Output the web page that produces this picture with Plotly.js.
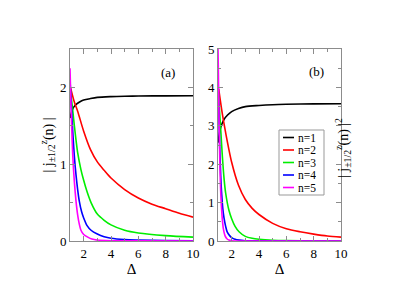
<!DOCTYPE html>
<html>
<head>
<meta charset="utf-8">
<script src="https://cdn.plot.ly/plotly-3.0.1.min.js"></script>
<style>html,body{margin:0;padding:0;background:#fff}#chart{width:411px;height:291px}</style>
</head>
<body>
<div id="chart"></div>
<script>
// Panel (a): |j^z_{±1/2}(n)|
const a1x = [1.0, 1.1, 1.2, 1.3, 1.45, 1.7, 2, 2.5, 3, 4, 5, 6, 8, 10];
const a1y = [1.60, 1.67, 1.72, 1.75, 1.78, 1.81, 1.835, 1.855, 1.87, 1.88, 1.885, 1.888, 1.89, 1.892];
const a2x = [1.05, 1.3, 1.56, 2, 2.5, 3, 3.5, 4, 5, 6, 7, 8, 9, 10];
const a2y = [1.99, 1.82, 1.69, 1.43, 1.19, 1.03, 0.92, 0.82, 0.67, 0.56, 0.48, 0.42, 0.36, 0.31];
const a3x = [1.0, 1.1, 1.2, 1.32, 1.45, 1.56, 1.8, 2, 2.25, 2.54, 3, 3.5, 4, 5, 6, 8, 10];
const a3y = [2.0, 1.86, 1.70, 1.50, 1.30, 1.15, 0.93, 0.79, 0.64, 0.50, 0.35, 0.27, 0.21, 0.14, 0.105, 0.07, 0.05];
const a4x = [1.0, 1.1, 1.2, 1.32, 1.44, 1.56, 1.68, 1.85, 2, 2.25, 2.54, 3, 3.5, 4, 5, 6, 8, 10];
const a4y = [2.10, 1.75, 1.43, 1.10, 0.86, 0.67, 0.52, 0.38, 0.30, 0.20, 0.14, 0.09, 0.055, 0.035, 0.018, 0.012, 0.006, 0.004];
const a5x = [1.0, 1.06, 1.12, 1.2, 1.32, 1.44, 1.56, 1.68, 1.8, 2, 2.3, 2.6, 3, 4, 6, 10];
const a5y = [2.25, 1.85, 1.50, 1.12, 0.77, 0.52, 0.34, 0.22, 0.14, 0.085, 0.05, 0.025, 0.012, 0.004, 0.001, 0.0];

// Panel (b): |j^z_{±1/2}(n)|^2
const b1x = [1.0, 1.1, 1.2, 1.3, 1.45, 1.7, 2, 2.5, 3, 4, 5, 6, 8, 10];
const b1y = [2.56, 2.80, 2.96, 3.06, 3.17, 3.28, 3.37, 3.45, 3.50, 3.53, 3.55, 3.56, 3.57, 3.575];
const b2x = [1.05, 1.3, 1.56, 2, 2.5, 3, 3.5, 4, 5, 6, 7, 8, 9, 10];
const b2y = [3.96, 3.35, 2.82, 2.05, 1.45, 1.08, 0.85, 0.69, 0.46, 0.32, 0.24, 0.18, 0.13, 0.10];
const b3x = [1.0, 1.1, 1.2, 1.32, 1.45, 1.56, 1.8, 2, 2.25, 2.54, 3, 3.5, 4, 5, 6, 8, 10];
const b3y = [4.0, 3.45, 2.9, 2.2, 1.6, 1.25, 0.8, 0.58, 0.38, 0.24, 0.12, 0.07, 0.045, 0.02, 0.011, 0.005, 0.0025];
const b4x = [1.0, 1.06, 1.12, 1.2, 1.27, 1.35, 1.44, 1.56, 1.68, 1.85, 2, 2.25, 2.54, 3, 4, 10];
const b4y = [4.3, 3.4, 2.5, 1.7, 1.22, 0.85, 0.6, 0.38, 0.23, 0.14, 0.09, 0.045, 0.022, 0.008, 0.002, 0.0];
const b5x = [1.0, 1.04, 1.07, 1.12, 1.17, 1.25, 1.32, 1.4, 1.51, 1.65, 1.8, 2, 3, 10];
const b5y = [5.05, 4.1, 3.3, 2.3, 1.57, 0.9, 0.55, 0.3, 0.14, 0.06, 0.025, 0.008, 0.0, 0.0];

const names = ["n=1", "n=2", "n=3", "n=4", "n=5"];
const colors = ["#000000", "#ff0000", "#00ee00", "#0000ff", "#ff00ff"];

const xsA = [a1x, a2x, a3x, a4x, a5x], ysA = [a1y, a2y, a3y, a4y, a5y];
const xsB = [b1x, b2x, b3x, b4x, b5x], ysB = [b1y, b2y, b3y, b4y, b5y];

const traces = [];
for (let i = 0; i < 5; i++) {
  traces.push({x: xsA[i], y: ysA[i], xaxis: 'x', yaxis: 'y', mode: 'lines', name: names[i],
    showlegend: false, line: {color: colors[i], width: 1.6, shape: 'spline', smoothing: 0.8}});
}
for (let i = 0; i < 5; i++) {
  traces.push({x: xsB[i], y: ysB[i], xaxis: 'x2', yaxis: 'y2', mode: 'lines', name: names[i],
    showlegend: false, line: {color: colors[i], width: 1.6, shape: 'spline', smoothing: 0.8}});
}

const serif = "Liberation Serif";
const frame = '#8c8c8c';
function xax(domain, anchor) {
  return {domain: domain, anchor: anchor, range: [1, 10], tick0: 0, dtick: 2,
    ticks: 'inside', ticklen: 5, tickcolor: frame, tickwidth: 1,
    showline: true, linecolor: frame, linewidth: 1, mirror: 'allticks',
    minor: {tick0: 0, dtick: 1, ticks: 'inside', ticklen: 3, tickcolor: frame},
    showgrid: false, zeroline: false,
    tickfont: {family: serif, size: 13, color: '#000'},
    title: {text: 'Δ', font: {family: serif, size: 15, color: '#000'}, standoff: 2}};
}
function yax(domain, anchor, max) {
  return {domain: domain, anchor: anchor, range: [0, max], tick0: 0, dtick: 1,
    ticks: 'inside', ticklen: 5, tickcolor: frame, tickwidth: 1,
    showline: true, linecolor: frame, linewidth: 1, mirror: 'allticks',
    minor: {tick0: 0, dtick: 0.5, ticks: 'inside', ticklen: 3, tickcolor: frame},
    showgrid: false, zeroline: false,
    tickfont: {family: serif, size: 13, color: '#000'}};
}

// custom compact legend (paper pixel positions)
const W = 411, H = 291;
const legX0 = 279, legX1 = 324, legY0 = 130, legY1 = 195;
const shapes = [{type: 'rect', xref: 'paper', yref: 'paper',
  x0: legX0 / W, x1: legX1 / W, y0: 1 - legY1 / H, y1: 1 - legY0 / H,
  line: {color: '#999', width: 1}, fillcolor: '#fff', layer: 'above'}];
const annotations = [
  {xref: 'x', yref: 'y', x: 8.15, y: 2.2, text: '(a)', showarrow: false,
    font: {family: serif, size: 13, color: '#000'}},
  {xref: 'x2', yref: 'y2', x: 8.2, y: 4.41, text: '(b)', showarrow: false,
    font: {family: serif, size: 13, color: '#000'}},
  {xref: 'paper', yref: 'paper', x: 355 / W, y: 1 - 148 / H, textangle: -90,
    text: '| j<sub>±1/2</sub><sup>z</sup>(n) |<sup>2</sup>', showarrow: false,
    font: {family: serif, size: 14, color: '#000'}}
];
for (let i = 0; i < 5; i++) {
  const yy = 1 - (137.5 + i * 12.5) / H;
  shapes.push({type: 'line', xref: 'paper', yref: 'paper', x0: 283 / W, x1: 294 / W, y0: yy, y1: yy,
    line: {color: colors[i], width: 1.6}, layer: 'above'});
  annotations.push({xref: 'paper', yref: 'paper', x: 297 / W, y: yy, xanchor: 'left', yanchor: 'middle',
    text: names[i], showarrow: false, height: 12, borderpad: 0,
    font: {family: serif, size: 11.5, color: '#000'}});
}

const ydom = [1 - 241 / H, 1 - 49 / H];
const layout = {
  width: W, height: H,
  margin: {l: 0, r: 0, t: 0, b: 0},
  paper_bgcolor: '#fff', plot_bgcolor: '#fff',
  font: {family: serif, color: '#000'},
  xaxis: xax([70 / W, 193 / W], 'y'),
  yaxis: Object.assign(yax(ydom, 'x', 2.5), {
    title: {text: '| j<sub>±1/2</sub><sup>z</sup>(n) |', font: {family: serif, size: 14, color: '#000'}, standoff: 3}}),
  xaxis2: xax([218 / W, 341 / W], 'y2'),
  yaxis2: yax(ydom, 'x2', 5),
  showlegend: false,
  shapes: shapes,
  annotations: annotations
};

Plotly.newPlot('chart', traces, layout, {displayModeBar: false, staticPlot: true});
</script>
</body>
</html>
